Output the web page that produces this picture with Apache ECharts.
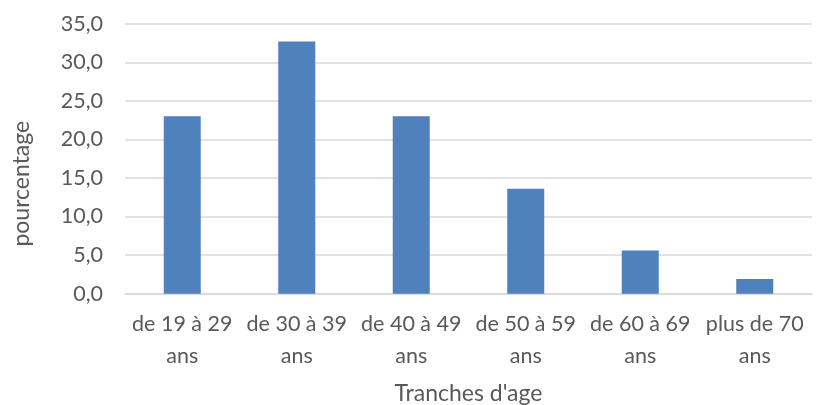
<!DOCTYPE html>
<html><head><meta charset="utf-8">
<script src="https://cdn.jsdelivr.net/npm/echarts@6/dist/echarts.min.js"></script>
<style>html,body{margin:0;padding:0;background:#fff}#c{width:827px;height:405px}</style>
</head><body><div id="c"></div>
<script>
const categories = ["de 19 à 29 ans", "de 30 à 39 ans", "de 40 à 49 ans", "de 50 à 59 ans", "de 60 à 69 ans", "plus de 70 ans"];
const values = [23.0, 32.7, 23.0, 13.6, 5.6, 1.9];
const yTicks = [0, 5, 10, 15, 20, 25, 30, 35];
const xTitle = "Tranches d'age";
const yTitle = "pourcentage";

const FONT = "Lato";
const chart = echarts.init(document.getElementById('c'), null, {renderer: 'canvas'});
chart.setOption({
  animation: false,
  grid: {left: 125, right: 15, top: 23.7, bottom: 111.3, containLabel: false, outerBoundsMode: 'none'},
  xAxis: {
    type: 'category',
    data: categories,
    name: xTitle,
    nameLocation: 'middle',
    nameGap: 88,
    nameTextStyle: {fontFamily: FONT, fontSize: 23, color: '#595959'},
    axisLine: {lineStyle: {color: '#d9d9d9', width: 1.5}},
    axisTick: {show: false},
    axisLabel: {
      fontFamily: FONT, fontSize: 21.5, color: '#595959', margin: 14, lineHeight: 32, interval: 0,
      formatter: function (v) { const i = v.lastIndexOf(' '); return v.slice(0, i) + '\n' + v.slice(i + 1); }
    }
  },
  yAxis: {
    type: 'value',
    min: yTicks[0], max: yTicks[yTicks.length - 1], interval: yTicks[1] - yTicks[0],
    name: yTitle,
    nameLocation: 'middle',
    nameGap: 92,
    nameTextStyle: {fontFamily: FONT, fontSize: 23, color: '#595959', padding: [0, 50, 0, 0]},
    axisLine: {show: false},
    axisTick: {show: false},
    splitLine: {lineStyle: {color: '#d9d9d9', width: 1.5}},
    axisLabel: {
      fontFamily: FONT, fontSize: 21.5, color: '#595959', margin: 22,
      formatter: function (v) { return v.toFixed(1).replace('.', ','); }
    }
  },
  series: [{
    type: 'bar',
    data: values,
    barWidth: 37,
    itemStyle: {color: '#4f81bd'}
  }]
});
</script></body></html>
